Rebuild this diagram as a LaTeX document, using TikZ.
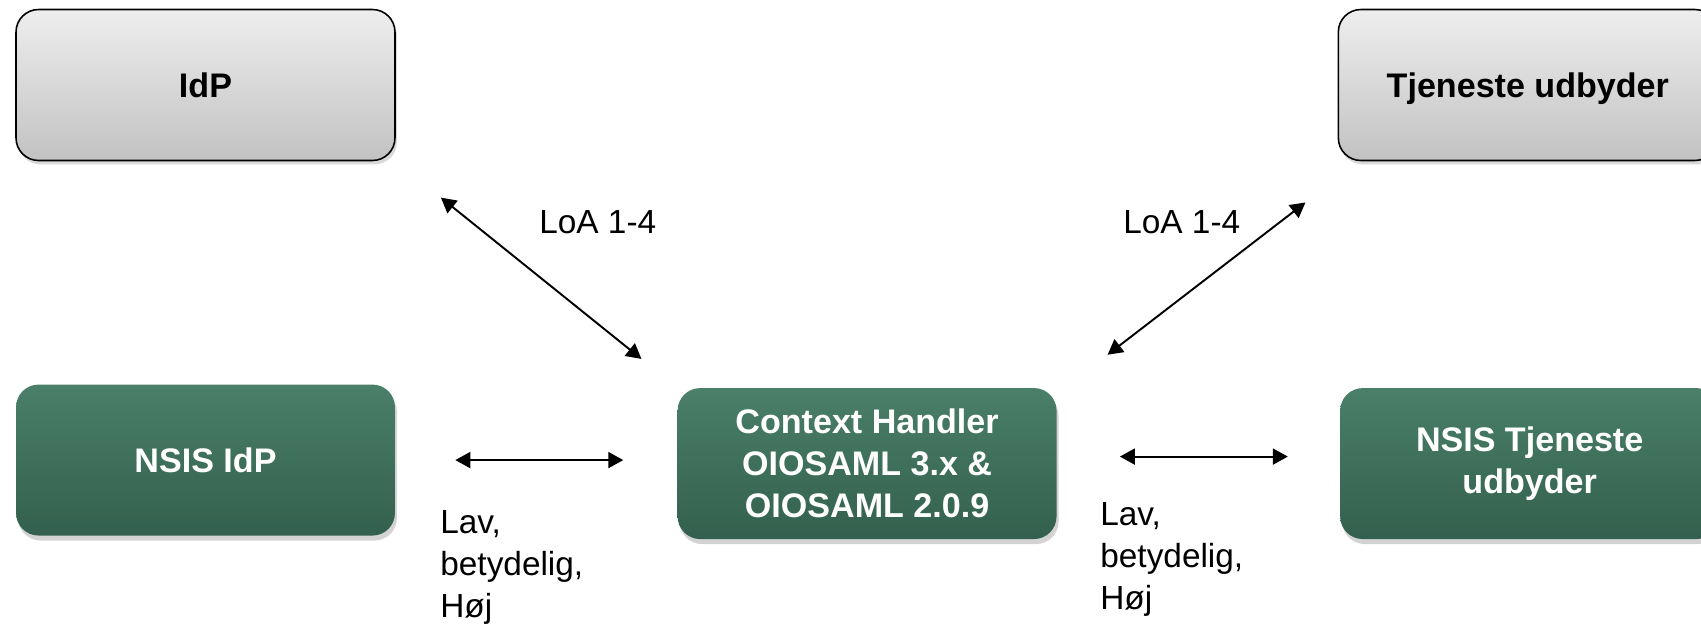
\documentclass[tikz,border=0pt]{standalone}
\usepackage{fontspec}
\setmainfont{Liberation Sans}
\usepackage{xcolor}
\usepackage{tikz}
\usetikzlibrary{positioning, arrows.meta, shadows}

\definecolor{greentop}{HTML}{4A7F69}
\definecolor{greenbot}{HTML}{33604E}
\definecolor{graytop}{HTML}{EEEEEE}
\definecolor{graybot}{HTML}{C2C2C2}

\begin{document}
\begin{tikzpicture}[x=0.02cm, y=-0.02cm, >={Triangle[length=0.3cm,width=0.32cm]},
    graybox/.style={draw=black, line width=0.9pt, rectangle, rounded corners=0.45cm,
        minimum width=7.58cm, minimum height=3.02cm, top color=graytop, bottom color=graybot,
        font=\fontsize{19.4}{24}\selectfont\bfseries, text depth=0pt,
        drop shadow={opacity=0.3, shadow xshift=0.04cm, shadow yshift=-0.08cm}},
    greenbox/.style={rectangle, rounded corners=0.45cm, minimum width=7.58cm, minimum height=3.02cm,
        top color=greentop, bottom color=greenbot, text=white, align=center,
        font=\fontsize{19.4}{24}\selectfont\bfseries,
        drop shadow={opacity=0.35, shadow xshift=0.04cm, shadow yshift=-0.1cm}},
    link/.style={<->, line width=1.1pt},
    lbl/.style={inner sep=0pt, align=left, font=\fontsize{19}{24}\selectfont}]
    \useasboundingbox (0,0) rectangle (1701,623);

    % Main components
    \node[graybox] (idp) at (205.5,85) {IdP};
    \node[graybox, right=18.84cm of idp] (tj) {Tjeneste udbyder};

    \node[greenbox, below=4.46cm of idp] (nsisidp) {NSIS IdP};
    \node[greenbox, right=5.64cm of nsisidp, yshift=-0.07cm] (ctx) {Context Handler\\OIOSAML 3.x \&\\OIOSAML 2.0.9};
    \node[greenbox, right=5.66cm of ctx] (nstj) {NSIS Tjeneste\\udbyder};

    % Connections
    \draw[link, shorten <=1.16cm, shorten >=0.92cm] (idp.south east) -- (ctx.north west);
    \draw[link, shorten <=1.28cm, shorten >=0.81cm] ([yshift=-0.12cm]ctx.north east) -- ([yshift=-0.33cm]tj.south west);
    \draw[link, shorten <=1.2cm, shorten >=1.08cm] (nsisidp.east) -- (nsisidp.east -| ctx.west);
    \draw[link, shorten <=1.26cm, shorten >=1.04cm] ([yshift=0.14cm]ctx.east) -- ([yshift=0.14cm]nstj.west);

    % Labels
    \node[lbl, anchor=north west] (loaleft) at (539,210) {LoA 1-4};
    \node[lbl, anchor=north west] (loaright) at (1123,210) {LoA 1-4};
    \node[lbl, anchor=north west] (lvlleft) at (440,510) {Lav,\\betydelig,\\Høj};
    \node[lbl, anchor=north west] (lvlright) at (1100,502) {Lav,\\betydelig,\\Høj};

\end{tikzpicture}
\end{document}
